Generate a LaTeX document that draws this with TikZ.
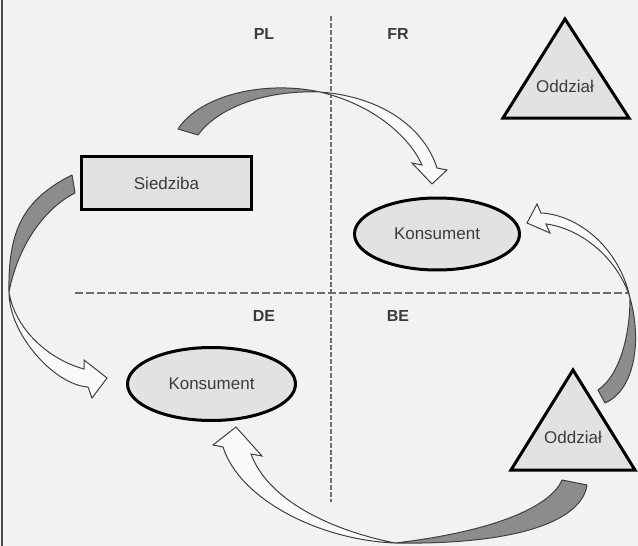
\documentclass[tikz,border=0pt]{standalone}
\usepackage{fontspec}
\setmainfont{Liberation Sans}
\usetikzlibrary{shapes.geometric}

\definecolor{bgcol}{HTML}{F2F2F2}
\definecolor{boxfill}{HTML}{E2E2E2}
\definecolor{bandgray}{HTML}{8C8C8C}
\definecolor{bandwhite}{HTML}{F9F9F9}
\definecolor{txtcol}{HTML}{3C3C3C}
\definecolor{dashcol}{HTML}{6E6E6E}

\tikzset{
  box/.style={draw=black, fill=boxfill, line width=1.5pt, text=txtcol,
    font=\fontsize{8.5}{10}\selectfont, inner sep=0pt},
  txt/.style={text=txtcol, font=\fontsize{8.5}{10}\selectfont, inner sep=0pt},
  land/.style={text=txtcol, font=\fontsize{8}{10}\selectfont\bfseries, inner sep=0pt},
  tri/.style={draw=black, fill=boxfill, line width=1.5pt, line join=miter},
  bandback/.style={fill=bandgray, draw=black!75, line width=0.5pt, line join=round},
  bandfront/.style={fill=bandwhite, draw=black!75, line width=0.5pt, line join=miter},
  border/.style={dashcol, line width=1pt}
}

\begin{document}
\begin{tikzpicture}[x=0.5pt, y=-0.5pt]
\fill[bgcol] (0,0) rectangle (638,546);
\useasboundingbox (0,0) rectangle (638,546);
\draw[black!70, line width=1pt] (1.5,0) -- (1.5,546);

% borders between countries
\draw[border, dash pattern=on 2.5pt off 1pt] (331,16) -- (331,502);
\draw[border, dash pattern=on 4pt off 1.5pt] (75,293) -- (628,293);

\node[land] (pl) at (264,34) {PL};
\node[land] (fr) at (398,34) {FR};
\node[land] (de) at (264,316) {DE};
\node[land] (be) at (398,316) {BE};

% firm and consumers
\node[box, rectangle, minimum width=85pt, minimum height=26.5pt] (siedziba) at (166.5,183) {Siedziba};
\node[box, ellipse, minimum width=82.5pt, minimum height=36pt] (konsfr) at (437,234) {Konsument};
\node[box, ellipse, minimum width=84pt, minimum height=36.5pt] (konsde) at (211.5,384) {Konsument};

\draw[tri] (565,19) -- (629,118) -- (503,118) -- cycle;
\node[txt] (oddzfr) at (565,86) {Oddział};
\draw[tri] (573,370) -- (635,470) -- (511,470) -- cycle;
\node[txt] (oddzbe) at (573,437) {Oddział};

% PL -> FR
\filldraw[bandback] (178,129) .. controls (200,95) and (265,80) .. (320,92)
  .. controls (270,90) and (220,105) .. (198,135) -- cycle;
\filldraw[bandfront] (320,92) .. controls (385,97) and (425,130) .. (437,168)
  -- (447,170) -- (432,184) -- (412,163) -- (422,165)
  .. controls (410,138) and (375,105) .. (320,92) -- cycle;

% PL -> DE
\filldraw[bandback] (72,175) .. controls (22,200) and (8,232) .. (9,292)
  .. controls (18,245) and (45,208) .. (75,193) -- cycle;
\filldraw[bandfront] (9,292) .. controls (9,335) and (55,385) .. (88,387)
  -- (92,398) -- (107,378) -- (84,360) -- (84,369)
  .. controls (50,360) and (15,330) .. (9,292) -- cycle;

% BE -> DE
\filldraw[bandback] (587,485) .. controls (582,520) and (520,545) .. (395,543)
  .. controls (490,532) and (550,508) .. (562,480) -- cycle;
\filldraw[bandfront] (395,543) .. controls (320,540) and (240,500) .. (223,447)
  -- (213,445) -- (236,427) -- (262,456) -- (251,454)
  .. controls (268,500) and (330,530) .. (395,543) -- cycle;

% BE -> FR
\filldraw[bandback] (605,403) .. controls (635,390) and (642,340) .. (630,298)
  .. controls (630,335) and (620,375) .. (598,390) -- cycle;
\filldraw[bandfront] (630,298) .. controls (620,250) and (580,215) .. (541,213)
  -- (537,204) -- (527,223) -- (550,233) -- (546,224)
  .. controls (580,228) and (618,258) .. (630,298) -- cycle;
\end{tikzpicture}
\end{document}
